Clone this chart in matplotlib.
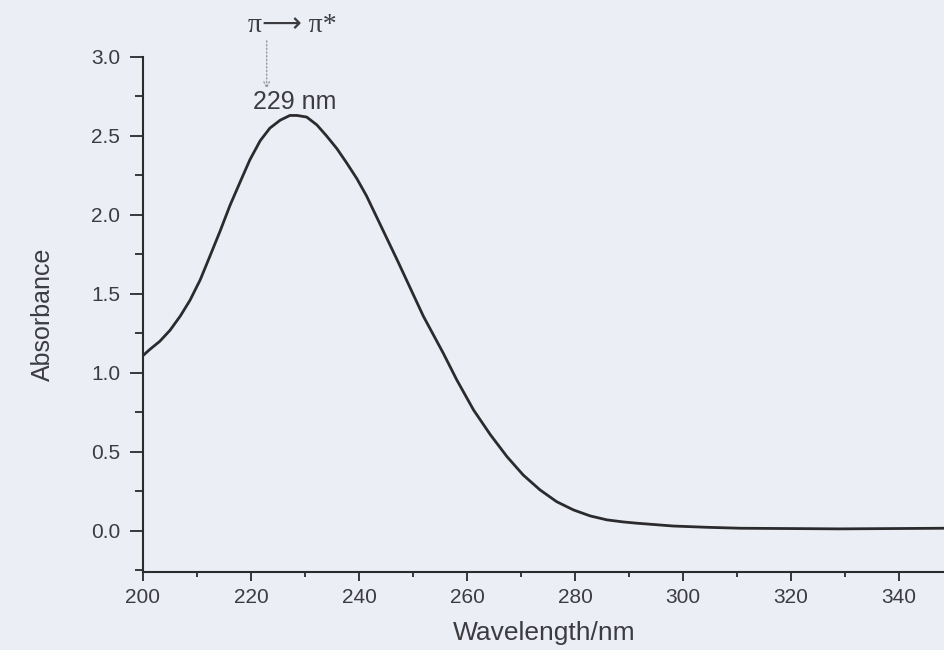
import matplotlib
matplotlib.use("Agg")
import matplotlib.pyplot as plt
from matplotlib.ticker import MultipleLocator, FormatStrFormatter

# UV-vis spectrum
wavelength_nm = [200.0, 201.3, 203.1, 205.0, 206.9, 208.7, 210.6, 212.4, 214.3,
                 216.1, 218.0, 219.8, 221.7, 223.5, 225.4, 227.2, 228.5, 230.3,
                 232.2, 234.0, 235.9, 237.7, 239.6, 241.4, 244.2, 247.0, 251.9,
                 255.6, 258.1, 261.2, 264.3, 267.4, 270.4, 273.5, 276.6, 279.7,
                 282.8, 285.9, 288.9, 291.4, 298.2, 304.4, 310.6, 329.0, 348.5]
absorbance = [1.11, 1.15, 1.20, 1.27, 1.36, 1.46, 1.59, 1.74, 1.90,
              2.06, 2.21, 2.35, 2.47, 2.55, 2.60, 2.63, 2.63, 2.62,
              2.57, 2.50, 2.42, 2.33, 2.23, 2.12, 1.92, 1.72, 1.36,
              1.125, 0.956, 0.766, 0.61, 0.47, 0.354, 0.26, 0.185, 0.133,
              0.095, 0.07, 0.057, 0.049, 0.031, 0.023, 0.017, 0.013, 0.017]

x_major = 20
y_major = 0.5
peak_label = "229 nm"
transition_label = "\u03c0\u27f6 \u03c0*"

BG = "#eceef5"
INK = "#2b2b2e"
TEXT = "#3c3c40"

plt.rcParams["font.family"] = ["Liberation Sans", "DejaVu Sans"]

fig = plt.figure(figsize=(9.45, 6.5), dpi=100, facecolor=BG)
ax = fig.add_axes([143 / 945, 78 / 650, (945 - 143) / 945, (572 - 57) / 650])
ax.set_facecolor("none")

ax.plot(wavelength_nm, absorbance, color=INK, linewidth=2.0)

ax.set_xlim(200, 348.5)
ax.set_ylim(-0.26, 3.0)

ax.xaxis.set_major_locator(MultipleLocator(x_major))
ax.xaxis.set_minor_locator(MultipleLocator(x_major / 2))
ax.yaxis.set_major_locator(MultipleLocator(y_major))
ax.yaxis.set_minor_locator(MultipleLocator(y_major / 2))
ax.yaxis.set_major_formatter(FormatStrFormatter("%.1f"))

for side in ["top", "right"]:
    ax.spines[side].set_visible(False)
for side in ["left", "bottom"]:
    ax.spines[side].set_color(INK)
    ax.spines[side].set_linewidth(1.5)

ax.tick_params(axis="y", which="major", direction="out", length=9.5, width=1.3,
               pad=7, labelsize=15, color=INK, labelcolor=TEXT)
ax.tick_params(axis="y", which="minor", direction="out", length=6, width=1.3, color=INK)
ax.tick_params(axis="x", which="major", direction="out", length=6.5, width=1.3,
               pad=5, labelsize=15, color=INK, labelcolor=TEXT)
ax.tick_params(axis="x", which="minor", direction="out", length=3.6, width=1.3, color=INK)

ax.set_xlabel("Wavelength/nm", fontsize=19, color=TEXT, labelpad=10)
ax.set_ylabel("Absorbance", fontsize=18, color=TEXT, labelpad=26)

# peak annotation
ax.annotate("", xy=(222.9, 2.78), xytext=(222.9, 3.12),
            arrowprops=dict(arrowstyle="->", linestyle=":", color="#9a9aa0", lw=1.0),
            annotation_clip=False)
ax.text(227.7, 3.20, transition_label, fontsize=20, color=TEXT,
        family=["Liberation Serif", "DejaVu Sans"],
        ha="center", va="center", clip_on=False)
ax.text(228.0, 2.715, peak_label, fontsize=18, color=TEXT,
        ha="center", va="center", clip_on=False)

fig.savefig("out.png", dpi=100, facecolor=BG)
